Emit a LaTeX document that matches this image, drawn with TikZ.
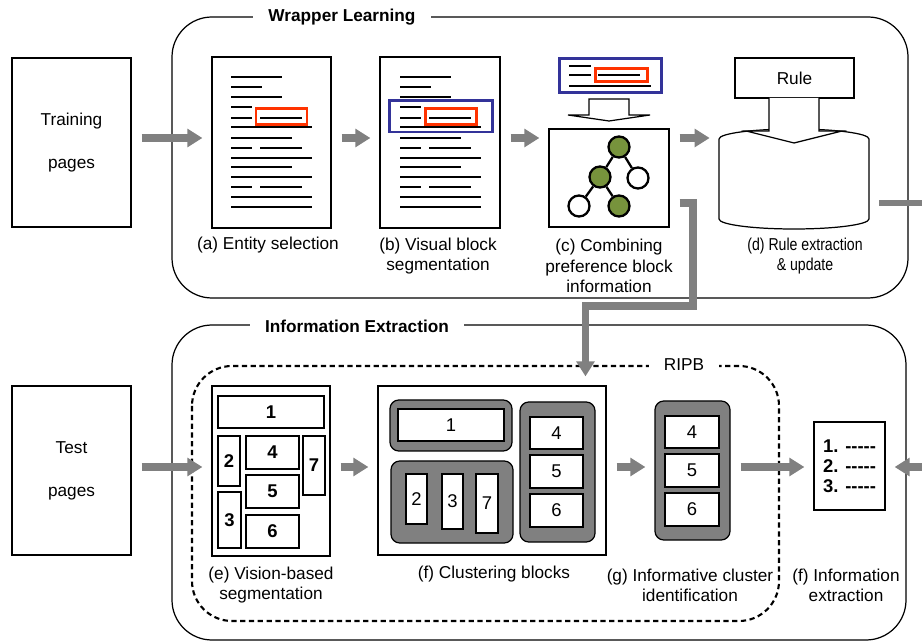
\documentclass[tikz,border=0pt]{standalone}
\usepackage{fontspec}
\setmainfont{Liberation Sans}
\newfontfamily\narrowsf[FakeStretch=0.82]{Liberation Sans}
\usetikzlibrary{arrows.meta,fit}
\usepackage{xcolor}
\colorlet{flowGray}{black!50}
\colorlet{clusterGray}{black!50}
\definecolor{entRed}{RGB}{255,51,0}
\definecolor{blockBlue}{RGB}{51,51,153}
\definecolor{nodeGreen}{RGB}{119,147,60}
\newcommand{\capfont}{\fontsize{9.8}{11.5}\selectfont}
\newcommand{\dashes}{-{}-{}-{}-{}-}

\tikzset{
  page/.style={draw, fill=white, inner sep=0pt, line width=0.7pt},
  cell/.style={draw, fill=white, inner sep=0pt, line width=0.7pt},
  cluster/.style={draw, fill=clusterGray, inner sep=0pt, rounded corners=5pt, line width=0.7pt},
  num/.style={font=\fontsize{10.5}{12}\selectfont},
  flow/.style={draw=flowGray, line width=4pt, -{Triangle[length=8.5pt,width=10pt]},
    shorten <=0.2cm, shorten >=0.18cm},
  feed/.style={draw=flowGray, line width=3.6pt},
  frame/.style={draw, rounded corners=0.8cm, line width=0.7pt},
  ripb/.style={draw, rounded corners=0.8cm, line width=1.2pt, dash pattern=on 3pt off 2pt},
  framelabel/.style={fill=white, inner xsep=0.3cm, font=\capfont\bfseries},
  caption/.style={align=center},
  tline/.style={line width=1.1pt},
  entity/.style={draw=entRed, line width=1.7pt},
  vblock/.style={draw=blockBlue, line width=1.7pt},
  tnode/.style={circle, draw, line width=1.3pt, minimum size=0.42cm, inner sep=0pt},
}

\begin{document}
\begin{tikzpicture}[x=0.02cm, y=-0.02cm, font=\capfont]
  \useasboundingbox (0,0) rectangle (922,644);
  \coordinate (rowA) at (0,138);
  \coordinate (rowB) at (0,467);
  \coordinate (outR) at (922,203);
  \coordinate (inR) at (922,467);

  % frames
  \draw[frame] (172,17) rectangle (908,298);
  \node[framelabel] at (342,17) {Wrapper Learning};
  \draw[frame] (172,325) rectangle (906,640);
  \node[framelabel] at (357,326) {Information Extraction};
  \draw[ripb] (192,366) rectangle (779,621);
  \node[fill=white, inner xsep=0.3cm] at (684,365) {RIPB};

  % input pages
  \node[page, fit={(12,58) (131,227)}, label={[align=center]center:Training\\[13pt]pages}] (trainBox) {};
  \node[page, fit={(12,386) (131,555)}, label={[align=center]center:Test\\[13pt]pages}] (testBox) {};

  % (a) and (b)
  \node[page, fit={(212,57) (331,228)}] (docA) {};
  \node[page, fit={(380,57) (500,228)}] (docB) {};
  \foreach \dx in {0,169}
    \foreach \y/\a/\b in {77/231/282, 87/231/262, 97/231/282, 107/231/252, 118/231/252,
        118/260/302, 127/231/312, 138/231/292, 148/231/252, 148/260/302, 158/231/312,
        167/231/292, 177/231/312, 187/231/252, 187/260/302, 197/231/312, 207/231/312}
      \draw[tline] (\a+\dx,\y) -- (\b+\dx,\y);
  \draw[entity] (256,109) rectangle (307,125);
  \draw[entity] (425,109) rectangle (476,125);
  \draw[vblock] (389,101) rectangle (492,132);

  % (c)
  \draw[vblock] (559,59) rectangle (661,93);
  \draw[tline] (569,66) -- (591,66) (569,75) -- (591,75) (569,86) -- (651,86) (598,75) -- (640,75);
  \draw[entity] (595,69) rectangle (647,82);
  \draw[line width=0.7pt] (589,99) -- (629,99) -- (629,115) -- (650,115) -- (609,121)
    -- (568,115) -- (589,115) -- cycle;
  \node[page, fit={(549,129) (669,227)}] (treeBox) {};
  \node[tnode, fill=nodeGreen] (tRoot) at (619,147) {};
  \node[tnode, fill=nodeGreen] (tL) at (600,177) {};
  \node[tnode, fill=white] (tR) at (638,178) {};
  \node[tnode, fill=white] (tLL) at (579,206) {};
  \node[tnode, fill=nodeGreen] (tLR) at (619,206) {};
  \draw[line width=1.3pt] (tRoot) -- (tL) (tRoot) -- (tR) (tL) -- (tLL) (tL) -- (tLR);

  % (d)
  \node[page, fit={(735,58) (854,98)}, label=center:Rule] (ruleBox) {};
  \node[fit={(719,129) (869,229)}, inner sep=0pt] (db) {};
  \draw[fill=white, line width=0.7pt] (719,139) -- (719,219)
    arc[start angle=180, end angle=360, x radius=1.5cm, y radius=0.2cm] -- (869,139)
    arc[start angle=0, end angle=180, x radius=1.5cm, y radius=0.2cm];
  \draw[fill=white, line width=0.7pt] (769,98) -- (769,131) -- (746,131) -- (794,143)
    -- (842,131) -- (819,131) -- (819,98);

  % captions, top
  \node[caption] (capA) at (268,245) {(a) Entity selection};
  \node[caption] (capB) at (438,256) {(b) Visual block\\segmentation};
  \node[caption] (capC) at (609,266) {(c) Combining\\preference block\\information};
  \node[caption, font=\narrowsf\capfont] (capD) at (805,256) {(d) Rule extraction\\\& update};

  % (e)
  \node[page, fit={(212,386) (330,556)}] (segBox) {};
  \foreach \n/\a/\b/\c/\d in {1/218/396/324/428, 2/218/436/240/486, 3/218/492/241/548,
      4/246/436/299/469, 5/246/475/299/508, 6/246/515/299/548, 7/303/436/325/495}
    \node[cell, fit={(\a,\b) (\c,\d)}, label={[num]center:\bfseries\n}] (e\n) {};

  % (f)
  \node[page, fit={(378,386) (606,555)}] (clusBox) {};
  \node[cluster, fit={(390,400) (512,451)}] (cA) {};
  \node[cluster, fit={(391,461) (513,543)}] (cB) {};
  \node[cluster, fit={(520,402) (595,542)}] (cC) {};
  \foreach \n/\a/\b/\c/\d in {1/398/409/504/441, 2/406/474/427/524, 3/442/474/463/529,
      7/476/474/498/533, 4/530/417/583/449, 5/530/455/583/488, 6/530/494/583/527}
    \node[cell, fit={(\a,\b) (\c,\d)}, label={[num]center:\n}] (f\n) {};

  % (g)
  \node[cluster, fit={(655,401) (730,540)}] (gClus) {};
  \foreach \n/\b/\d in {4/416/448, 5/454/487, 6/493/526}
    \node[cell, fit={(665,\b) (719,\d)}, label={[num]center:\n}] (g\n) {};

  % result
  \node[page, fit={(814,422) (885,510)}, label={[align=left, font=\fontsize{10.5}{11.5}\selectfont\bfseries]center:1. \dashes\\2. \dashes\\3. \dashes}] (outBox) {};

  % captions, bottom
  \node[caption] (capE) at (271,585) {(e) Vision-based\\segmentation};
  \node[caption] (capF) at (494,574) {(f) Clustering blocks};
  \node[caption] (capG) at (690,585) {(g) Informative cluster\\identification};
  \node[caption] (capH) at (846,585) {(f) Information\\extraction};

  % flows
  \draw[flow] (trainBox.east |- rowA) -- (docA.west |- rowA);
  \draw[flow] (docA.east |- rowA) -- (docB.west |- rowA);
  \draw[flow] (docB.east |- rowA) -- (treeBox.west |- rowA);
  \draw[flow] (treeBox.east |- rowA) -- (db.west |- rowA);
  \draw[feed, shorten <=0.2cm] (db.east |- outR) -- (outR);
  \draw[flow] (treeBox.east |- outR) -| (693,306) -| ([xshift=1.87cm]clusBox.north);
  \draw[flow] (testBox.east |- rowB) -- (segBox.west |- rowB);
  \draw[flow] (segBox.east |- rowB) -- (clusBox.west |- rowB);
  \draw[flow] (clusBox.east |- rowB) -- (gClus.west |- rowB);
  \draw[flow] (gClus.east |- rowB) -- (outBox.west |- rowB);
  \draw[flow, shorten <=0pt] (inR) -- (outBox.east |- rowB);
\end{tikzpicture}
\end{document}
